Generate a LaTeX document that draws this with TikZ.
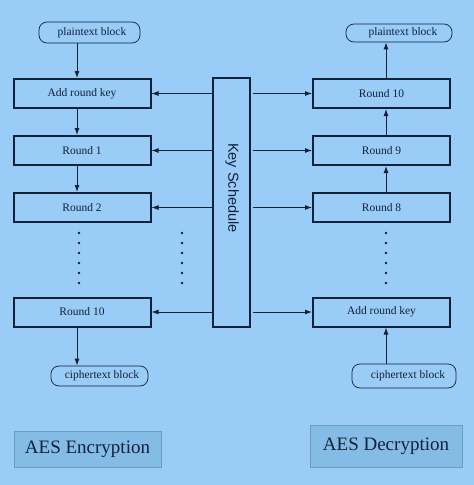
\documentclass[tikz,border=0pt]{standalone}
\usepackage{fontspec}
\setmainfont{Liberation Serif}
\newfontfamily\keyfont{Liberation Sans}
\usepackage{tikz}
\usetikzlibrary{arrows.meta,positioning,calc}

\definecolor{bgblue}{HTML}{99CCF7}
\definecolor{tagblue}{HTML}{85BCE6}
\definecolor{tagline}{HTML}{6A9CC6}
\definecolor{ink}{HTML}{13213A}

\begin{document}
\begin{tikzpicture}[x=1pt, y=-1pt, ink,
    roundbox/.style={draw=ink, line width=2pt, minimum width=137pt, minimum height=29pt, inner sep=0pt, font=\fontsize{11.5}{13}\selectfont},
    textblock/.style={draw=ink, line width=0.7pt, rounded corners=8pt, inner sep=0pt, font=\fontsize{11.5}{13}\selectfont},
    tagbox/.style={draw=tagline, fill=tagblue, line width=0.8pt, inner sep=0pt, font=\fontsize{19}{22}\selectfont},
    flow/.style={draw=ink, line width=0.9pt, -{Latex[length=7pt,width=5pt]}}]
    \fill[bgblue] (0,0) rectangle (474,485);
    \useasboundingbox (0,0) rectangle (474,485);

    % encryption side
    \node[textblock, minimum width=101pt, minimum height=21pt] (ptL) at (89.5,32.5) {\hspace*{5pt}plaintext block};
    \node[roundbox] (addL) at (82,93.5) {Add round key};
    \node[roundbox] (r1L) at (82,150.5) {Round 1};
    \node[roundbox] (r2L) at (82,207.5) {Round 2};
    \node[roundbox] (r10L) at (82,312) {Round 10};
    \node[textblock, minimum width=97pt, minimum height=20pt] (ctL) at (99.5,376) {\hspace*{5pt}ciphertext block};
    \node[tagbox, minimum width=147pt, minimum height=36pt] (encT) at (87.5,449) {AES Encryption};

    % key schedule
    \node[draw=ink, line width=2pt, minimum width=37pt, minimum height=249pt, inner sep=0pt] (key) at (231.5,202.5) {};
    \node[rotate=-90, font=\keyfont\fontsize{14.5}{16}\selectfont] (keyT) at (232,188) {Key Schedule};

    % decryption side
    \node[textblock, minimum width=106pt, minimum height=18pt] (ptR) at (399,33) {\hspace*{8pt}plaintext block};
    \node[roundbox] (r10R) at (381.5,93.5) {Round 10};
    \node[roundbox] (r9R) at (381.5,150.5) {Round 9};
    \node[roundbox] (r8R) at (381.5,207.5) {Round 8};
    \node[roundbox] (addR) at (381.5,312) {Add round key};
    \node[textblock, minimum width=104pt, minimum height=24pt] (ctR) at (404,376) {\hspace*{8pt}ciphertext block};
    \node[tagbox, minimum width=152pt, minimum height=42pt] (decT) at (386,446) {AES Decryption};

    % data path
    \draw[flow] (ptL.south -| 77,0) -- (addL.north -| 77,0);
    \draw[flow] (addL.south -| 77,0) -- (r1L.north -| 77,0);
    \draw[flow] (r1L.south -| 77,0) -- (r2L.north -| 77,0);
    \draw[flow] (r10L.south -| 77,0) -- (ctL.north -| 77,0);
    \draw[flow] (ctR.north -| 386,0) -- (addR.south -| 386,0);
    \draw[flow] (r8R.north -| 386,0) -- (r9R.south -| 386,0);
    \draw[flow] (r9R.north -| 386,0) -- (r10R.south -| 386,0);
    \draw[flow] (r10R.north -| 386,0) -- (ptR.south -| 386,0);

    % round keys
    \foreach \r in {addL, r1L, r2L, r10L}
        \draw[flow] (key.west |- \r.east) -- (\r.east);
    \foreach \r in {r10R, r9R, r8R, addR}
        \draw[flow] ([xshift=2pt]key.east |- \r.west) -- (\r.west);

    % dots
    \foreach \x in {79, 182, 386}
        \foreach \y in {0,...,5}
            \fill[ink] (\x, 233+10*\y) circle (1.4pt);
  \end{tikzpicture}
\end{document}
